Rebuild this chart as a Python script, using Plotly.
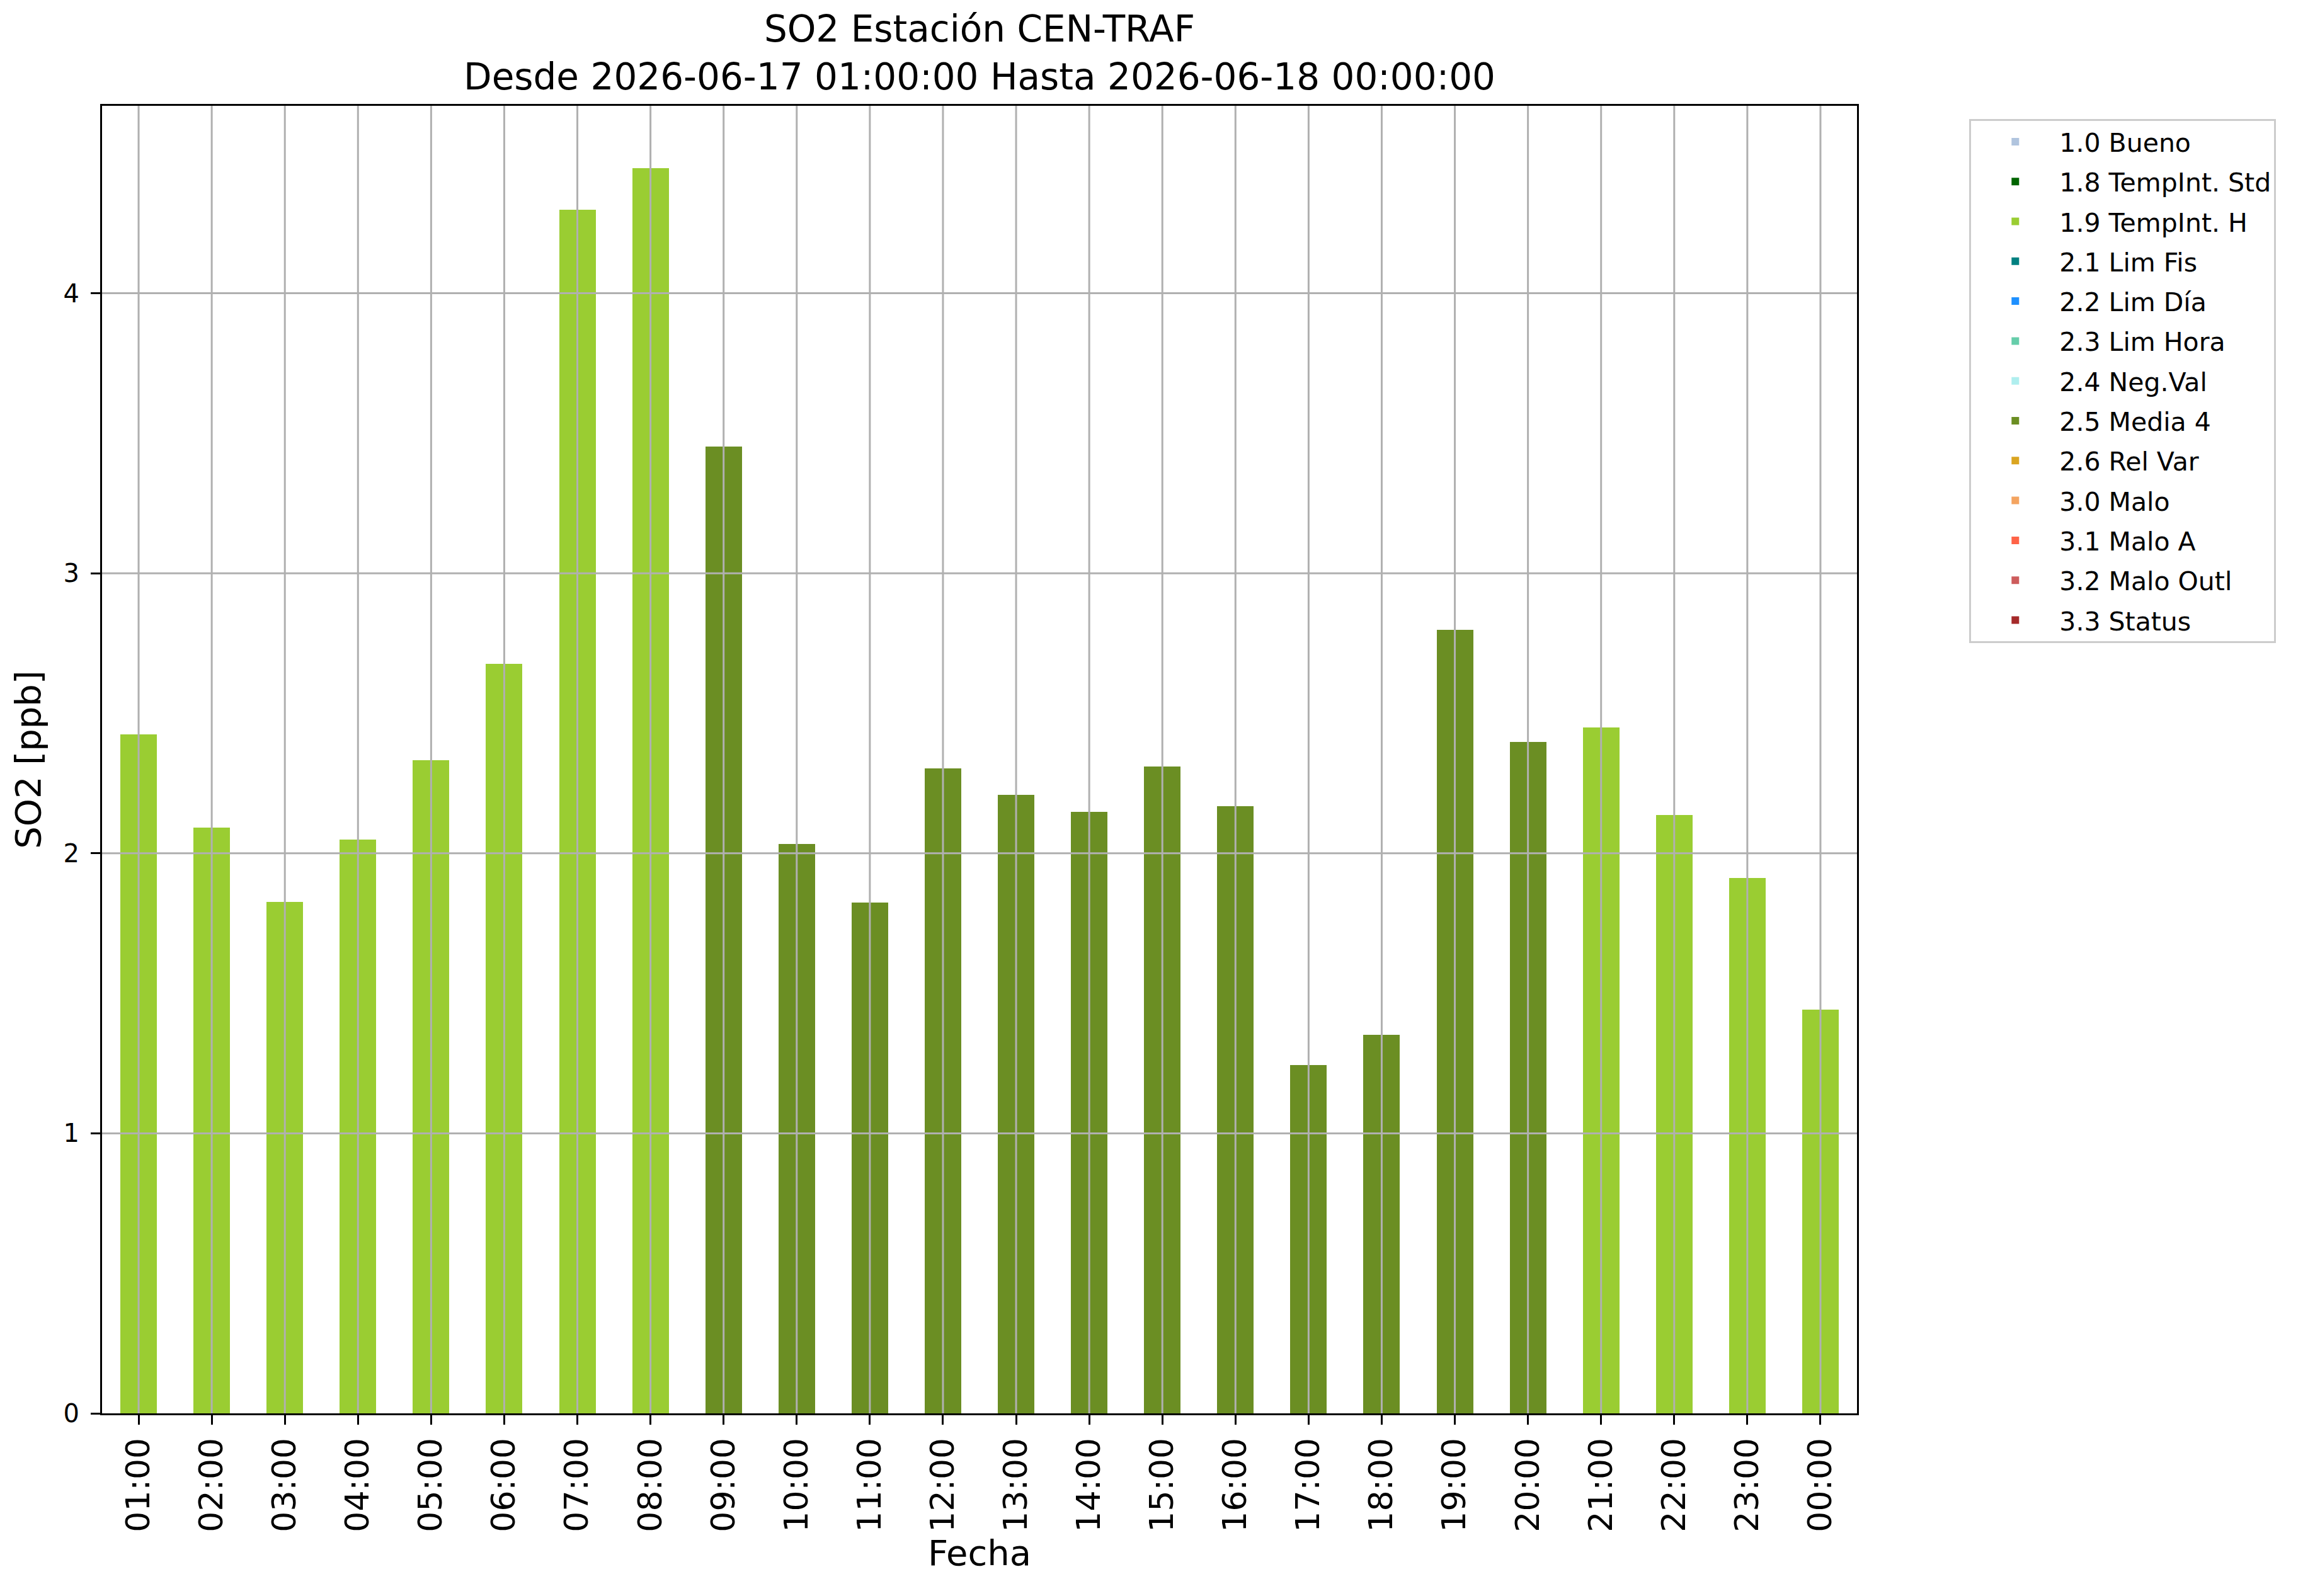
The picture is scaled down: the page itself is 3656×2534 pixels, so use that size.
import plotly.graph_objects as go

# hourly SO2 values and their validation flag
horas = ["01:00", "02:00", "03:00", "04:00", "05:00", "06:00", "07:00", "08:00",
         "09:00", "10:00", "11:00", "12:00", "13:00", "14:00", "15:00", "16:00",
         "17:00", "18:00", "19:00", "20:00", "21:00", "22:00", "23:00", "00:00"]
so2 = [2.424, 2.092, 1.826, 2.049, 2.333, 2.676, 4.298, 4.447,
       3.452, 2.033, 1.824, 2.304, 2.208, 2.149, 2.311, 2.169,
       1.243, 1.351, 2.797, 2.397, 2.450, 2.136, 1.911, 1.441]
flags = ["1.9", "1.9", "1.9", "1.9", "1.9", "1.9", "1.9", "1.9",
         "2.5", "2.5", "2.5", "2.5", "2.5", "2.5", "2.5", "2.5",
         "2.5", "2.5", "2.5", "2.5", "1.9", "1.9", "1.9", "1.9"]

# flag legend: code, label, colour
flag_codes = ["1.0", "1.8", "1.9", "2.1", "2.2", "2.3", "2.4", "2.5", "2.6",
              "3.0", "3.1", "3.2", "3.3"]
flag_labels = ["1.0 Bueno", "1.8 TempInt. Std", "1.9 TempInt. H", "2.1 Lim Fis",
               "2.2 Lim Día", "2.3 Lim Hora", "2.4 Neg.Val", "2.5 Media 4",
               "2.6 Rel Var", "3.0 Malo", "3.1 Malo A", "3.2 Malo Outl", "3.3 Status"]
flag_colors = ["#B0C4DE", "#006400", "#9ACD32", "#008080", "#1E90FF", "#66CDAA",
               "#AFEEEE", "#6B8E23", "#DAA520", "#F4A460", "#FF6347", "#CD5C5C",
               "#A52A2A"]

y_ticks = [0, 1, 2, 3, 4]

FONT = "DejaVu Sans"
GRID = "#b0b0b0"

fig = go.Figure()

for code, label, color in zip(flag_codes, flag_labels, flag_colors):
    ys = [v if f == code else None for v, f in zip(so2, flags)]
    fig.add_trace(go.Bar(
        x=horas,
        y=ys,
        name=label,
        width=0.5,
        marker=dict(color=color, line=dict(width=0)),
        legendgroup=label,
    ))

# grid drawn on top of the bars, like matplotlib
for h in horas:
    fig.add_shape(type="line", xref="x", yref="paper", x0=h, x1=h, y0=0, y1=1,
                  line=dict(color=GRID, width=3), layer="above")
for t in y_ticks[1:]:
    fig.add_shape(type="line", xref="paper", yref="y", x0=0, x1=1, y0=t, y1=t,
                  line=dict(color=GRID, width=3), layer="above")

ymax = max(so2) * 1.05

fig.update_layout(
    width=3656,
    height=2534,
    barmode="stack",
    plot_bgcolor="white",
    paper_bgcolor="white",
    font=dict(family=FONT, color="black"),
    margin=dict(l=154, r=716, t=160, b=298),
    title=dict(
        text="SO2 Estación CEN-TRAF<br>Desde 2026-06-17 01:00:00 Hasta 2026-06-18 00:00:00",
        x=0.5, xref="paper", xanchor="center",
        y=0.977, yref="container", yanchor="top",
        font=dict(size=58, family=FONT),
    ),
    xaxis=dict(
        type="category",
        range=[-0.5, len(horas) - 0.5],
        tickangle=-90,
        tickfont=dict(size=52),
        ticks="outside", ticklen=15, tickwidth=3, tickcolor="black",
        showgrid=False,
        showline=True, linecolor="black", linewidth=3, mirror=True,
        title=dict(text="Fecha", font=dict(size=56), standoff=14),
    ),
    yaxis=dict(
        range=[0, ymax],
        tickvals=y_ticks,
        tickfont=dict(size=40),
        ticks="outside", ticklen=15, tickwidth=3, tickcolor="black",
        ticklabelstandoff=10,
        showgrid=False, zeroline=False,
        showline=True, linecolor="black", linewidth=3, mirror=True,
        title=dict(text="SO2 [ppb]", font=dict(size=56), standoff=18),
    ),
    legend=dict(
        x=1.064, y=0.99, xanchor="left", yanchor="top",
        font=dict(size=41, family=FONT),
        bordercolor="#cccccc", borderwidth=3,
        bgcolor="white",
        tracegroupgap=7,
        itemwidth=130,
        traceorder="grouped",
    ),
    showlegend=True,
)

fig.write_html("out.html")
